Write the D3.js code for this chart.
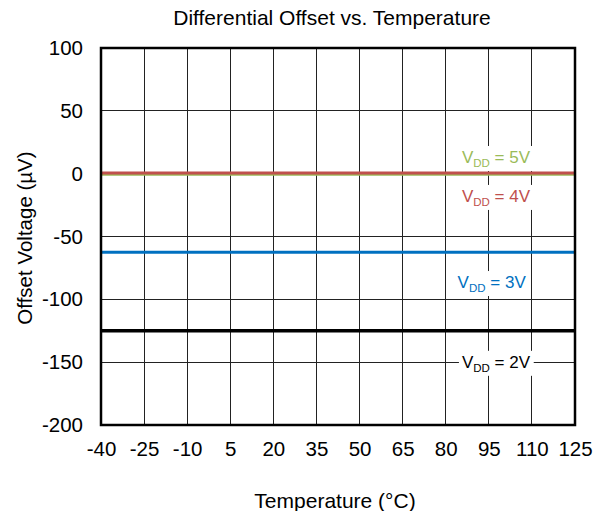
<!DOCTYPE html>
<html><head><meta charset="utf-8">
<script src="https://cdn.jsdelivr.net/npm/d3@7"></script>
<style>body{margin:0;background:#fff;} svg{display:block;font-family:"Liberation Sans",Arial,sans-serif;}</style>
</head><body>
<script>
const xTicks = [-40,-25,-10,5,20,35,50,65,80,95,110,125];
const yTicks = [100,50,0,-50,-100,-150,-200];
const seriesNames = ["5V","4V","3V","2V"];
const seriesValues = [-0.5, 0.5, -62.5, -125];
const seriesColors = ["#9BBB59","#C0504D","#0070C0","#000000"];
const labelTemps = [97.5, 97.5, 96, 97.5];
const labelValues = [8.5, -22.5, -91, -154.5];

const W=593,H=511;
const m={l:101,r:575,t:48,b:425};
const svg=d3.select("body").append("svg").attr("width",W).attr("height",H);
const x=d3.scaleLinear().domain([-40,125]).range([m.l,m.r]);
const y=d3.scaleLinear().domain([-200,100]).range([m.b,m.t]);

// grid
svg.append("g").selectAll("line").data(xTicks.slice(1,-1)).join("line")
 .attr("x1",d=>x(d)).attr("x2",d=>x(d)).attr("y1",m.t).attr("y2",m.b)
 .attr("stroke","#222").attr("stroke-width",1).attr("shape-rendering","crispEdges");
svg.append("g").selectAll("line").data(yTicks.slice(1,-1)).join("line")
 .attr("x1",m.l).attr("x2",m.r).attr("y1",d=>y(d)).attr("y2",d=>y(d))
 .attr("stroke","#222").attr("stroke-width",1).attr("shape-rendering","crispEdges");

// series lines
svg.append("g").selectAll("line").data(seriesValues).join("line")
 .attr("x1",x(-40)).attr("x2",x(125)).attr("y1",d=>y(d)).attr("y2",d=>y(d))
 .attr("stroke",(d,i)=>seriesColors[i]).attr("stroke-width",(d,i)=>i==3?3.5:3);

// frame
svg.append("rect").attr("x",m.l).attr("y",m.t).attr("width",m.r-m.l).attr("height",m.b-m.t)
 .attr("fill","none").attr("stroke","#000").attr("stroke-width",2.5);

// axes labels
const fmt=d=>String(d);
const xa=svg.append("g").attr("transform",`translate(0,${m.b})`).call(d3.axisBottom(x).tickValues(xTicks).tickFormat(fmt).tickSize(0).tickPadding(16.5));
xa.select(".domain").remove();
xa.selectAll("text").attr("font-size",20.5).attr("font-family","Liberation Sans, Arial, sans-serif").attr("fill","#000");
const ya=svg.append("g").attr("transform",`translate(${m.l},0)`).call(d3.axisLeft(y).tickValues(yTicks).tickFormat(fmt).tickSize(0).tickPadding(18));
ya.select(".domain").remove();
ya.selectAll("text").attr("font-size",20.5).attr("font-family","Liberation Sans, Arial, sans-serif").attr("fill","#000");

// series labels
seriesNames.forEach((n,i)=>{
  const g=svg.append("g");
  const t=g.append("text").attr("x",x(labelTemps[i])).attr("y",y(labelValues[i])).attr("text-anchor","middle")
   .attr("font-size",17).attr("fill",seriesColors[i]);
  t.append("tspan").text("V");
  t.append("tspan").text("DD").attr("font-size",11.5).attr("dy",4);
  t.append("tspan").text(" = "+n).attr("dy",-4);
  const bb=t.node().getBBox();
  g.insert("rect","text").attr("x",bb.x-3).attr("y",bb.y-2).attr("width",bb.width+6).attr("height",bb.height+4).attr("fill","#fff");
});

svg.append("text").attr("x",332).attr("y",25).attr("text-anchor","middle").attr("font-size",21).text("Differential Offset vs. Temperature");
svg.append("text").attr("x",335).attr("y",508).attr("text-anchor","middle").attr("font-size",21).text("Temperature (°C)");
svg.append("text").attr("transform","translate(32,238) rotate(-90)").attr("text-anchor","middle").attr("font-size",20.5).text("Offset Voltage (µV)");
</script>
</body></html>
